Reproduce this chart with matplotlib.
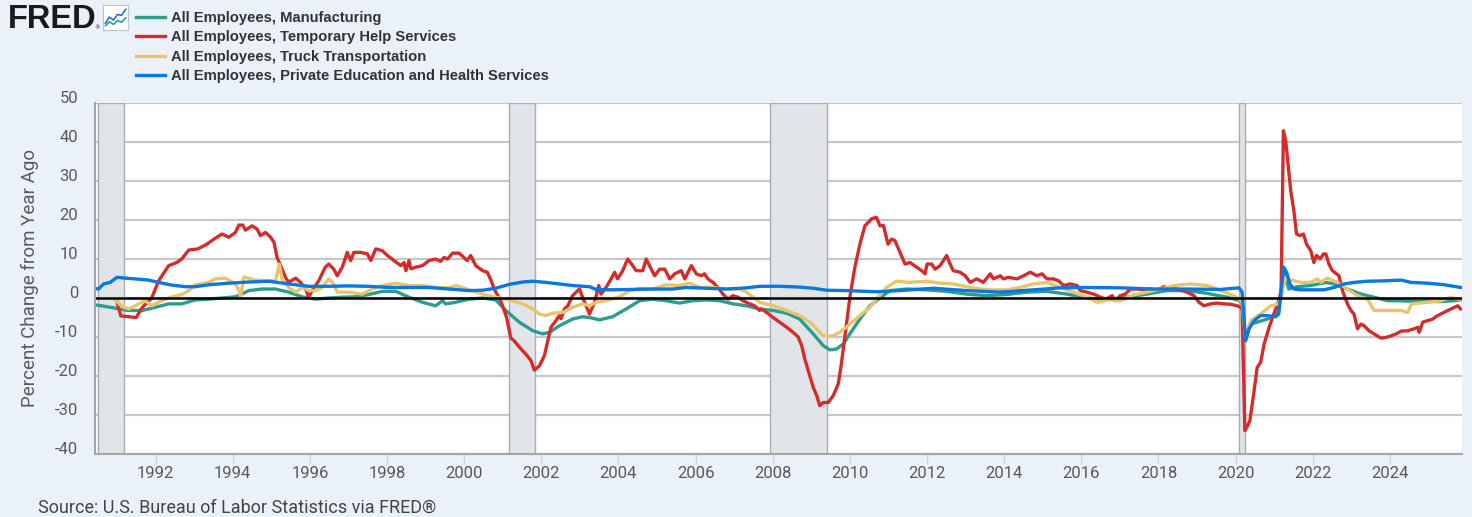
import matplotlib
matplotlib.use("Agg")
import matplotlib.pyplot as plt

plt.rcParams["axes.unicode_minus"] = False

# ---- data (percent change from year ago; x in decimal years)
mfg_t = [1990.26, 1990.60, 1990.95, 1991.30, 1991.65, 1991.99, 1992.34, 1992.68, 1993.03, 1993.38,
         1993.72, 1994.07, 1994.42, 1994.76, 1995.11, 1995.45, 1995.80, 1996.15, 1996.49, 1996.84,
         1997.19, 1997.53, 1997.88, 1998.23, 1998.57, 1998.92, 1999.26, 1999.44, 1999.52, 1999.78,
         2000.13, 2000.48, 2000.82, 2001.08, 2001.43, 2001.78, 2002.03, 2002.21, 2002.47, 2002.81,
         2003.07, 2003.25, 2003.51, 2003.85, 2004.20, 2004.55, 2004.89, 2005.24, 2005.58, 2005.93,
         2006.28, 2006.62, 2006.97, 2007.32, 2007.66, 2008.01, 2008.36, 2008.70, 2009.05, 2009.31,
         2009.48, 2009.65, 2009.83, 2010.00, 2010.26, 2010.52, 2010.74, 2011.04, 2011.47, 2011.99,
         2012.51, 2013.03, 2013.55, 2014.07, 2014.59, 2015.11, 2015.63, 2016.15, 2016.67, 2017.18,
         2017.70, 2018.22, 2018.74, 2019.26, 2019.78, 2020.13, 2020.17, 2020.26, 2020.37, 2020.56,
         2020.82, 2021.08, 2021.18, 2021.27, 2021.38, 2021.60, 2021.95, 2022.34, 2022.55, 2022.90,
         2023.25, 2023.59, 2023.94, 2024.29, 2024.63, 2024.98, 2025.32, 2025.67, 2025.84]
mfg_v = [-1.5, -2.0, -2.6, -3.2, -3.2, -2.4, -1.5, -1.5, -0.5, -0.3,
         0.0, 0.3, 1.9, 2.3, 2.3, 1.5, 0.3, -0.3, 0.0, 0.2,
         0.3, 0.9, 1.7, 1.7, 0.2, -1.1, -2.0, -0.7, -1.5, -1.1,
         -0.3, 0.0, -0.5, -3.2, -6.2, -8.4, -9.2, -8.8, -7.1, -5.4,
         -4.8, -5.0, -5.6, -4.8, -2.8, -0.7, -0.3, -0.7, -1.3, -0.7,
         -0.5, -0.7, -1.5, -2.0, -2.8, -3.2, -3.9, -5.4, -9.2, -12.2,
         -13.3, -13.1, -11.8, -9.2, -5.4, -2.0, -0.3, 1.9, 2.3, 2.1,
         1.7, 1.0, 0.6, 0.9, 1.5, 1.7, 1.0, 0.0, -0.4, 0.2,
         1.0, 1.9, 1.9, 1.2, 0.2, -0.7, -1.5, -10.9, -6.7, -6.2,
         -5.4, -4.1, 0.2, 6.2, 2.3, 2.9, 3.2, 4.0, 3.6, 2.3,
         1.0, 0.2, -0.7, -0.7, -0.9, -0.9, -0.9, -0.7, -0.5]

temp_t = [1991.00, 1991.10, 1991.30, 1991.50, 1991.65, 1991.80, 1991.90, 1992.08, 1992.34, 1992.55,
          1992.68, 1992.86, 1993.10, 1993.33, 1993.50, 1993.72, 1993.90, 1994.07, 1994.16, 1994.26,
          1994.33, 1994.50, 1994.63, 1994.72, 1994.85, 1994.98, 1995.07, 1995.15, 1995.24, 1995.37,
          1995.45, 1995.63, 1995.76, 1995.89, 1995.97, 1996.06, 1996.23, 1996.40, 1996.49, 1996.62,
          1996.71, 1996.84, 1996.97, 1997.06, 1997.14, 1997.32, 1997.49, 1997.58, 1997.71, 1997.88,
          1998.01, 1998.18, 1998.36, 1998.44, 1998.49, 1998.57, 1998.62, 1998.75, 1998.92, 1999.09,
          1999.26, 1999.39, 1999.48, 1999.57, 1999.70, 1999.87, 1999.99, 2000.08, 2000.17, 2000.30,
          2000.48, 2000.60, 2000.68, 2000.80, 2000.95, 2001.10, 2001.21, 2001.30, 2001.43, 2001.60,
          2001.73, 2001.82, 2001.95, 2002.08, 2002.16, 2002.25, 2002.38, 2002.47, 2002.51, 2002.60,
          2002.69, 2002.81, 2002.99, 2003.07, 2003.16, 2003.25, 2003.38, 2003.49, 2003.55, 2003.68,
          2003.81, 2003.90, 2003.98, 2004.11, 2004.24, 2004.37, 2004.46, 2004.63, 2004.72, 2004.85,
          2004.94, 2005.07, 2005.20, 2005.33, 2005.46, 2005.63, 2005.72, 2005.89, 2006.02, 2006.15,
          2006.23, 2006.32, 2006.45, 2006.58, 2006.71, 2006.84, 2006.97, 2007.10, 2007.23, 2007.40,
          2007.53, 2007.66, 2007.70, 2007.84, 2008.01, 2008.18, 2008.36, 2008.53, 2008.66, 2008.75,
          2008.83, 2008.96, 2009.05, 2009.14, 2009.22, 2009.31, 2009.44, 2009.57, 2009.70, 2009.78,
          2009.87, 2010.00, 2010.13, 2010.26, 2010.39, 2010.48, 2010.56, 2010.69, 2010.78, 2010.87,
          2010.99, 2011.08, 2011.17, 2011.30, 2011.43, 2011.56, 2011.73, 2011.86, 2011.95, 2012.00,
          2012.12, 2012.21, 2012.34, 2012.51, 2012.60, 2012.68, 2012.86, 2012.99, 2013.12, 2013.29,
          2013.46, 2013.64, 2013.72, 2013.90, 2013.98, 2014.11, 2014.33, 2014.50, 2014.68, 2014.85,
          2014.98, 2015.11, 2015.28, 2015.41, 2015.54, 2015.71, 2015.89, 2015.97, 2016.15, 2016.32,
          2016.50, 2016.63, 2016.80, 2016.88, 2017.01, 2017.14, 2017.27, 2017.45, 2017.62, 2017.79,
          2017.96, 2018.14, 2018.31, 2018.48, 2018.74, 2018.92, 2019.05, 2019.18, 2019.35, 2019.52,
          2019.70, 2019.87, 2020.04, 2020.13, 2020.17, 2020.24, 2020.30, 2020.37, 2020.48, 2020.56,
          2020.65, 2020.74, 2020.87, 2020.99, 2021.12, 2021.18, 2021.24, 2021.30, 2021.36, 2021.43,
          2021.51, 2021.58, 2021.67, 2021.76, 2021.84, 2021.95, 2022.03, 2022.10, 2022.19, 2022.28,
          2022.34, 2022.42, 2022.51, 2022.60, 2022.68, 2022.77, 2022.90, 2022.99, 2023.07, 2023.16,
          2023.25, 2023.33, 2023.46, 2023.59, 2023.77, 2023.90, 2024.03, 2024.16, 2024.29, 2024.46,
          2024.63, 2024.72, 2024.76, 2024.85, 2024.98, 2025.11, 2025.19, 2025.32, 2025.50, 2025.67,
          2025.76, 2025.83]
temp_v = [-1.0, -4.6, -4.8, -5.0, -2.5, -1.0, 0.0, 4.4, 8.3, 9.1,
          10.0, 12.3, 12.6, 13.8, 15.0, 16.4, 15.6, 16.8, 18.7, 18.7,
          17.4, 18.5, 17.7, 16.0, 16.8, 15.6, 14.3, 10.4, 8.3, 5.3,
          4.0, 5.1, 4.0, 2.3, 0.2, 1.9, 4.4, 7.9, 8.7, 7.4,
          5.7, 7.9, 11.7, 9.6, 11.7, 11.7, 11.3, 9.6, 12.6, 12.1,
          10.9, 9.6, 8.3, 9.1, 7.0, 9.6, 7.5, 7.9, 8.3, 9.6,
          10.0, 9.4, 10.4, 10.0, 11.5, 11.5, 10.4, 9.6, 10.9, 8.3,
          7.0, 6.6, 4.9, 1.9, -0.7, -5.0, -10.3, -11.0, -12.6, -14.4,
          -16.0, -18.5, -17.4, -14.8, -11.4, -7.5, -5.8, -4.5, -5.3, -2.8,
          -2.0, 0.6, 2.3, 0.2, -2.0, -4.1, -1.1, 3.2, 1.0, 2.7,
          4.9, 6.6, 4.9, 7.0, 10.0, 8.3, 7.0, 7.0, 10.0, 7.4,
          5.7, 7.4, 7.4, 4.9, 6.2, 7.0, 4.9, 8.3, 6.2, 5.7,
          6.2, 4.9, 4.0, 2.7, 1.0, -0.3, 0.6, 0.2, -0.7, -1.5,
          -2.0, -3.2, -2.8, -3.7, -5.0, -6.2, -7.5, -8.8, -10.0, -12.2,
          -15.6, -19.9, -22.9, -25.0, -27.6, -26.8, -26.8, -25.0, -22.0, -16.9,
          -10.0, 0.2, 7.9, 13.8, 18.5, 19.4, 20.3, 20.7, 18.5, 18.6,
          13.8, 15.1, 14.7, 11.7, 8.7, 9.1, 7.9, 7.0, 6.2, 8.7,
          8.7, 7.4, 8.3, 10.9, 8.7, 7.0, 6.6, 5.7, 4.0, 4.9,
          4.0, 6.2, 4.9, 5.7, 4.9, 5.3, 4.9, 5.7, 6.6, 5.7,
          6.2, 4.9, 4.9, 4.4, 3.2, 3.6, 3.2, 1.9, 1.5, 1.0,
          0.2, -0.3, 0.6, -0.7, 0.6, 1.0, 2.3, 2.3, 2.1, 2.3,
          1.9, 2.9, 2.3, 2.3, 1.5, 0.6, -1.1, -2.0, -1.5, -1.3,
          -1.5, -1.6, -2.0, -2.4, -3.0, -34.0, -33.0, -31.5, -23.8, -17.8,
          -16.5, -11.8, -7.5, -4.1, -0.7, 1.9, 42.9, 40.3, 34.4, 27.5,
          22.4, 16.4, 16.0, 16.4, 13.8, 12.1, 9.1, 10.9, 10.0, 11.3,
          11.3, 8.7, 7.0, 6.3, 5.7, 1.9, -1.5, -3.2, -4.1, -7.9,
          -6.7, -7.1, -8.4, -9.2, -10.3, -10.1, -9.7, -9.2, -8.5, -8.4,
          -7.9, -7.5, -8.8, -6.2, -5.8, -5.4, -4.8, -4.1, -3.2, -2.4,
          -2.0, -2.8]

truck_t = [1990.97, 1991.13, 1991.30, 1991.47, 1991.73, 1991.90, 1992.16, 1992.42, 1992.68, 1992.86,
           1993.03, 1993.38, 1993.55, 1993.81, 1994.07, 1994.16, 1994.20, 1994.25, 1994.29, 1994.59,
           1994.94, 1995.11, 1995.21, 1995.28, 1995.45, 1995.63, 1995.80, 1995.97, 1996.15, 1996.32,
           1996.49, 1996.62, 1996.71, 1997.01, 1997.36, 1997.62, 1997.88, 1998.23, 1998.57, 1998.92,
           1999.26, 1999.61, 1999.78, 2000.13, 2000.48, 2000.82, 2001.17, 2001.52, 2001.78, 2001.95,
           2002.12, 2002.29, 2002.55, 2002.81, 2003.07, 2003.25, 2003.42, 2003.68, 2004.03, 2004.29,
           2004.55, 2004.89, 2005.24, 2005.58, 2005.85, 2006.11, 2006.45, 2006.80, 2007.14, 2007.32,
           2007.49, 2007.66, 2008.01, 2008.36, 2008.70, 2008.96, 2009.14, 2009.31, 2009.57, 2009.74,
           2010.00, 2010.26, 2010.52, 2010.74, 2010.95, 2011.21, 2011.56, 2011.99, 2012.34, 2012.68,
           2013.03, 2013.38, 2013.72, 2014.07, 2014.41, 2014.76, 2015.11, 2015.45, 2015.80, 2016.15,
           2016.41, 2016.67, 2017.01, 2017.36, 2017.70, 2018.05, 2018.40, 2018.83, 2019.26, 2019.61,
           2019.96, 2020.13, 2020.17, 2020.26, 2020.39, 2020.65, 2020.91, 2021.12, 2021.21, 2021.30,
           2021.43, 2021.69, 2021.95, 2022.12, 2022.21, 2022.38, 2022.64, 2022.90, 2023.16, 2023.42,
           2023.59, 2023.77, 2024.03, 2024.29, 2024.46, 2024.56, 2024.98, 2025.32, 2025.59, 2025.84]
truck_v = [-0.7, -2.2, -2.8, -2.0, -0.7, -2.0, -0.7, 0.3, 0.9, 1.9,
           3.4, 4.0, 4.9, 5.1, 3.6, 2.0, 0.3, 3.0, 5.4, 4.6,
           4.4, 4.4, 8.7, 4.9, 2.7, 1.5, 2.7, 1.9, 1.9, 2.7,
           4.9, 3.6, 1.5, 1.5, 1.0, 2.3, 3.2, 3.8, 3.2, 3.2,
           2.7, 2.6, 3.2, 2.1, 1.0, 0.2, -0.5, -1.5, -2.8, -4.1,
           -4.5, -3.9, -3.7, -2.4, -1.5, -2.0, -1.1, -0.7, 0.3, 1.9,
           2.5, 2.3, 3.4, 3.2, 3.8, 2.7, 2.7, 2.3, 2.3, 1.5,
           0.2, -1.1, -2.0, -3.2, -4.5, -6.2, -7.9, -9.7, -9.7, -8.8,
           -6.7, -4.5, -2.4, 0.3, 2.7, 4.3, 4.0, 4.3, 3.8, 3.6,
           2.9, 2.3, 2.1, 2.1, 2.7, 3.6, 4.0, 2.7, 1.5, 0.2,
           -1.1, -0.5, -0.7, 0.8, 1.5, 2.3, 3.2, 3.6, 3.2, 1.9,
           0.6, -0.5, -1.1, -10.5, -5.8, -4.1, -2.0, -1.5, 1.9, 5.3,
           4.6, 4.0, 4.0, 4.9, 4.0, 5.1, 4.0, 2.3, 0.6, -0.3,
           -3.2, -3.2, -3.2, -3.2, -3.7, -1.5, -1.1, -0.7, 0.2, -0.5]

edu_t = [1990.26, 1990.52, 1990.65, 1990.82, 1991.00, 1991.21, 1991.47, 1991.82, 1992.08, 1992.42,
         1992.77, 1993.03, 1993.38, 1993.90, 1994.42, 1994.94, 1995.45, 1995.97, 1996.49, 1997.01,
         1997.53, 1998.05, 1998.57, 1999.09, 1999.61, 2000.13, 2000.48, 2000.82, 2001.17, 2001.52,
         2001.78, 2002.12, 2002.47, 2002.81, 2003.25, 2003.42, 2003.85, 2004.37, 2004.89, 2005.41,
         2005.76, 2006.28, 2006.80, 2007.32, 2007.66, 2008.18, 2008.70, 2009.05, 2009.39, 2009.91,
         2010.69, 2011.30, 2012.16, 2013.03, 2013.90, 2014.76, 2015.45, 2016.15, 2017.01, 2017.88,
         2018.74, 2019.61, 2020.09, 2020.17, 2020.26, 2020.35, 2020.48, 2020.65, 2020.82, 2021.04,
         2021.12, 2021.18, 2021.25, 2021.32, 2021.41, 2021.51, 2021.69, 2022.03, 2022.29, 2022.55,
         2022.81, 2023.07, 2023.42, 2023.85, 2024.29, 2024.55, 2024.98, 2025.41, 2025.84]
edu_v = [2.7, 2.3, 3.6, 4.0, 5.3, 5.1, 4.9, 4.6, 4.0, 3.3,
         2.9, 2.9, 3.4, 3.8, 4.1, 4.3, 3.6, 3.0, 3.0, 3.1,
         3.0, 2.7, 2.7, 2.7, 2.3, 1.9, 2.0, 2.5, 3.5, 4.1,
         4.3, 4.0, 3.6, 3.2, 2.9, 2.2, 2.1, 2.2, 2.3, 2.3,
         2.7, 2.5, 2.3, 2.6, 3.0, 3.0, 2.8, 2.5, 2.0, 1.9,
         1.6, 1.9, 2.5, 1.9, 1.5, 2.1, 2.6, 2.7, 2.6, 2.3,
         2.3, 2.2, 2.6, 1.5, -10.9, -7.9, -5.8, -4.5, -4.5, -4.8,
         -4.1, 1.9, 7.9, 6.6, 3.6, 2.3, 2.1, 2.1, 2.1, 2.7,
         3.6, 4.0, 4.3, 4.4, 4.6, 4.0, 3.8, 3.4, 2.7]

labels = ["All Employees, Manufacturing",
          "All Employees, Temporary Help Services",
          "All Employees, Truck Transportation",
          "All Employees, Private Education and Health Services"]
colors = ["#2a9d8f", "#d62b2b", "#e9c46a", "#0a78e0"]

# NBER recessions (start, end)
recessions = [(1990.50, 1991.17), (2001.17, 2001.83), (2007.92, 2009.42), (2020.08, 2020.25)]

year_ticks = list(range(1992, 2025, 2))
y_ticks = list(range(-40, 51, 10))

# ---- figure
bg = "#eaf1f9"
fig = plt.figure(figsize=(14.72, 5.17), dpi=100, facecolor=bg)
ax = fig.add_axes([95 / 1472, 1 - 454 / 517, 1367 / 1472, 351 / 517])
ax.set_facecolor("white")

for r0, r1 in recessions:
    ax.axvspan(r0, r1, facecolor="#e1e5ea", edgecolor="#a9adb3", lw=1, zorder=1)

series = [(mfg_t, mfg_v), (temp_t, temp_v), (truck_t, truck_v), (edu_t, edu_v)]
handles = []
for (t, v), lab, c in zip(series, labels, colors):
    h, = ax.plot(t, v, color=c, lw=2.4, label=lab, zorder=3, solid_joinstyle="round")
    handles.append(h)

ax.axhline(0, color="black", lw=1.8, zorder=4)

ax.set_xlim(1990.43, 2025.87)
ax.set_ylim(-40, 50)
ax.set_yticks(y_ticks)
ax.set_xticks(year_ticks)
ax.set_xticklabels([str(y) for y in year_ticks])
ax.yaxis.grid(True, color="#c8c8c8", lw=1.6, zorder=0)
ax.set_axisbelow(True)

for s in ["top", "right"]:
    ax.spines[s].set_visible(False)
for s in ["left", "bottom"]:
    ax.spines[s].set_color("#a6a6a6")
    ax.spines[s].set_linewidth(1.5)
    ax.spines[s].set_zorder(5)

tick_font = "Roboto"
ax.tick_params(axis="y", length=0, pad=12, labelsize=12, labelcolor="#595959")
ax.tick_params(axis="x", length=7, width=1, color="#ccd6eb", pad=2, labelsize=12,
               labelcolor="#595959")
for lbl in ax.get_yticklabels() + ax.get_xticklabels():
    lbl.set_fontfamily(tick_font)
plt.setp(ax.get_yticklabels(), va="baseline")

fig.text(30 / 1472, 1 - 278 / 517, "Percent Change from Year Ago", rotation=90,
         ha="center", va="center", fontsize=13.5, color="#595959", family=tick_font)

fig.text(38 / 1472, 1 - 499 / 517, "Source: U.S. Bureau of Labor Statistics via FRED®",
         ha="left", va="top", fontsize=13, color="#444444", family=tick_font)

# ---- header: FRED logo and legend
fig.text(8 / 1472, 1 - 28 / 517, "FRED", ha="left", va="baseline", fontsize=23.5,
         fontweight="bold", family="Liberation Sans", color="#1a1a1a")
fig.text(94 / 1472, 1 - 29 / 517, "®", ha="left", va="baseline", fontsize=4, color="#1a1a1a")
icon = fig.add_axes([103 / 1472, 1 - 30 / 517, 25 / 1472, 25 / 517])
icon.set_facecolor("white")
for s in icon.spines.values():
    s.set_color("#b8c4d0")
icon.set_xticks([])
icon.set_yticks([])
icon_x = [0, 1, 2, 3, 4, 5]
icon_blue = [1.2, 2.6, 1.9, 3.2, 3.0, 4.4]
icon_green = [0.6, 1.5, 0.9, 1.8, 1.4, 2.4]
icon.plot(icon_x, icon_blue, color="#1f6fe0", lw=1.2)
icon.plot(icon_x, icon_green, color="#2a9d8f", lw=1.2)
icon.set_xlim(-0.6, 5.6)
icon.set_ylim(-0.4, 5.4)

fig.legend(handles, labels, loc="upper left", bbox_to_anchor=(136 / 1472, 1 - 11 / 517),
           frameon=False, borderpad=0, borderaxespad=0, handlelength=1.95,
           handletextpad=0.4, labelspacing=0.37,
           prop={"family": "Liberation Sans", "weight": "bold", "size": 10.6},
           labelcolor="#333333")

fig.savefig("out.png", dpi=100, facecolor=bg)
